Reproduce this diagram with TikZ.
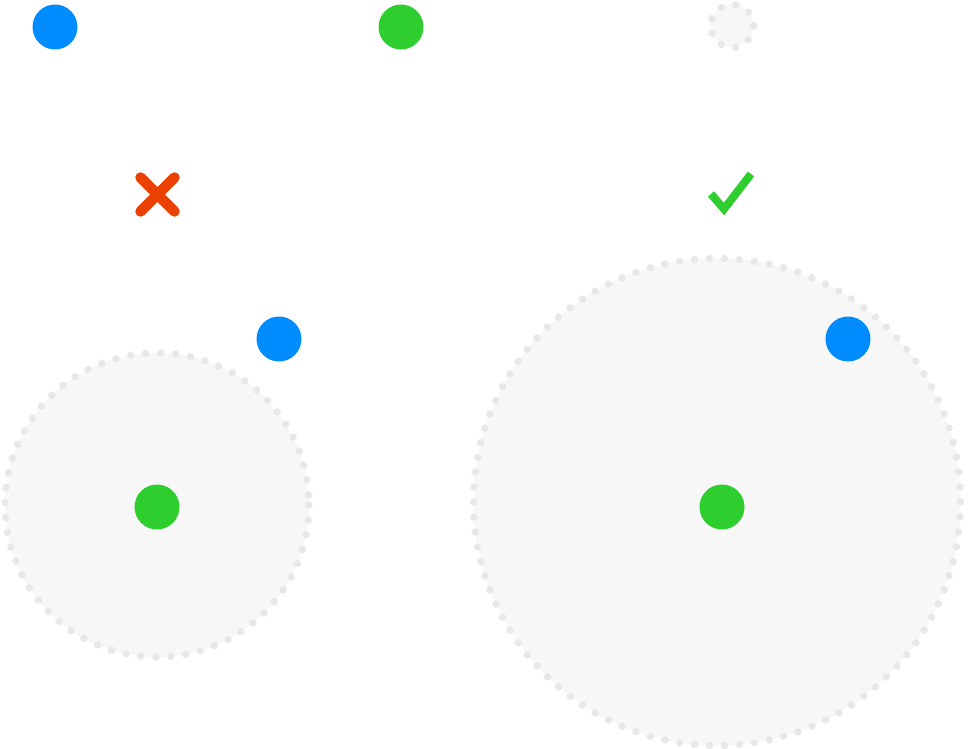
\documentclass[tikz,border=0pt]{standalone}
\definecolor{dotblue}{RGB}{0,140,255}
\definecolor{dotgreen}{RGB}{46,206,46}
\definecolor{crossred}{RGB}{234,64,0}
\definecolor{zonefill}{RGB}{247,247,247}
\definecolor{zonedot}{RGB}{232,232,232}
\begin{document}
\begin{tikzpicture}[x=1pt,y=-1pt,
  dot/.style={circle,inner sep=0pt,minimum size=45pt},
  bluedot/.style={dot,fill=dotblue},
  greendot/.style={dot,fill=dotgreen},
  zone/.style={fill=zonefill,draw=zonedot,line width=7.5pt,line cap=round,dash pattern=on 0pt off 15pt}]
\useasboundingbox (0,0) rectangle (969,749);
% zones
\path[zone] (732,26) circle (21.5);
\path[zone] (157,505) circle (152);
\path[zone] (717,502) circle (243.5);
% dots
\node[bluedot] (b1) at (55,27) {};
\node[greendot] (g1) at (401,27) {};
\node[bluedot] (b2) at (279,339) {};
\node[greendot] (g2) at (157,507) {};
\node[bluedot] (b3) at (848,339) {};
\node[greendot] (g3) at (722,507) {};
% cross
\draw[crossred,line width=10.5pt,line cap=round] (140.5,177.5) -- (174.5,211.5) (174.5,177.5) -- (140.5,211.5);
% check
\draw[dotgreen,line width=8pt,line join=miter] (711,194) -- (724,209) -- (751,174);
\end{tikzpicture}
\end{document}
